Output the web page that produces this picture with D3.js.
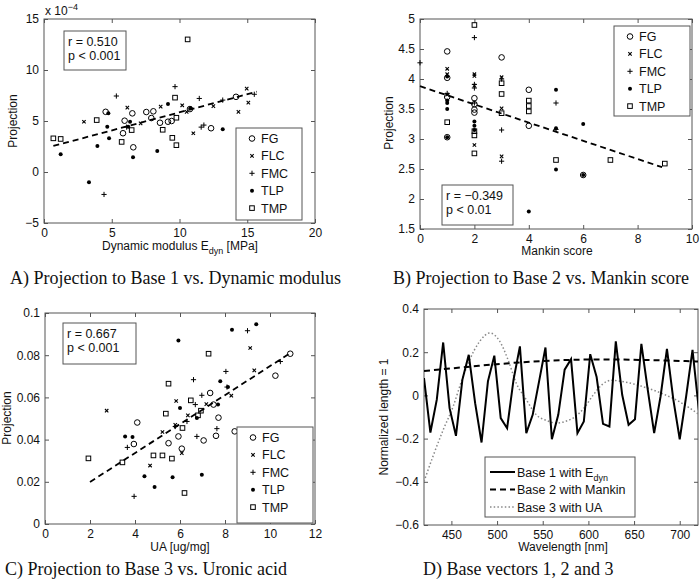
<!DOCTYPE html>
<meta charset="utf-8">
<script src="https://d3js.org/d3.v7.min.js"></script>
<style>
  body { margin: 0; background: #fff; }
  svg text { font-family: "Liberation Sans", Arial, sans-serif; fill: #111; }
  .cap { font-family: "Liberation Serif", "Times New Roman", serif; }
</style>
<div id="chart"></div>
<script>
// ---- data ----
var groups = ["FG", "FLC", "FMC", "TLP", "TMP"];

// A) projection to base 1 (x 1e-4) vs dynamic modulus [MPa]
var aFG  = [[4.55,5.9],[5.95,5.03],[5.83,3.8],[6.52,5.75],[6.59,2.42],[7.55,5.88],[7.92,5.29],[8.07,5.95],[8.56,4.83],[9.15,4.93],[9.42,5.0],[10.77,6.17],[12.33,4.29],[14.17,7.37]];
var aFLC = [[2.95,4.93],[6.15,6.31],[7.13,4.77],[8.61,6.41],[10.2,6.54],[10.53,5.9],[11.02,3.8],[12.5,6.46],[14.35,5.89],[14.96,8.18],[15.08,6.8]];
var aFMC = [[4.43,-2.2],[5.34,7.45],[9.67,8.37],[11.46,7.21],[11.6,4.4],[11.8,4.6],[13.19,7.05],[15.52,7.62],[6.1,4.4]];
var aTLP = [[1.23,1.73],[3.32,-1.01],[3.94,2.55],[4.67,4.44],[4.8,3.3],[4.75,5.75],[6.35,4.93],[6.22,4.44],[6.57,1.44],[8.36,2.06],[9.15,6.67],[10.8,6.25],[13.19,4.19]];
var aTMP = [[0.69,3.3],[1.23,3.24],[3.89,5.09],[5.73,2.95],[6.47,4.11],[8.76,4.14],[9.47,3.35],[9.77,2.63],[9.77,5.32],[9.67,7.29],[10.6,13.0]];
var aTrend = [[0.69,2.55],[15.7,7.87]];

// B) projection to base 2 vs Mankin score
var bFG  = [[1,4.46],[1,4.02],[1,3.7],[1,3.03],[2,3.68],[2,3.58],[2,3.49],[2,3.44],[3,4.36],[4,3.82],[4,3.22],[6,2.4]];
var bFLC = [[1,4.17],[1,4.08],[1,3.74],[2,4.08],[2,4.05],[2,3.89],[2,2.9],[3,4.03],[3,3.51],[3,2.71]];
var bFMC = [[0,4.27],[1,3.76],[2,4.69],[2,3.91],[2,3.85],[2,3.6],[3,4.0],[3,3.15],[3,2.63],[5,3.6],[5,3.16]];
var bTLP = [[1,4.04],[1,3.64],[1,3.6],[1,3.5],[1,3.03],[2,3.29],[2,3.22],[2,3.15],[4,1.79],[5,3.82],[5,3.18],[5,2.49],[6,3.25],[6,2.4]];
var bTMP = [[1,3.28],[2,4.9],[2,3.13],[2,3.06],[2,2.76],[3,3.93],[3,3.75],[3,3.43],[4,3.64],[4,3.55],[4,3.46],[5,2.65],[7,2.65],[9,2.59]];
var bTrend = [[0,3.88],[8.9,2.53]];

// C) projection to base 3 vs uronic acid [ug/mg]
var cFG  = [[4.1,0.0481],[3.95,0.0379],[5.49,0.0383],[5.93,0.0415],[6.08,0.0357],[7.05,0.0396],[7.34,0.0621],[7.49,0.0566],[7.71,0.0504],[7.6,0.0418],[8.43,0.0439],[10.24,0.0703],[10.9,0.0807]];
var cFLC = [[2.74,0.0537],[4.67,0.0277],[5.22,0.0436],[5.83,0.0583],[5.79,0.047],[6.35,0.0515],[6.08,0.0336],[7.17,0.0568],[8.28,0.0608],[9.12,0.0834],[9.3,0.0728]];
var cFMC = [[3.66,0.0363],[3.96,0.0131],[5.79,0.0462],[6.31,0.0486],[6.6,0.0684],[6.97,0.061],[6.68,0.0566],[6.75,0.0415],[7.64,0.0452],[8.04,0.0723],[8.09,0.0649],[9.0,0.0916],[10.46,0.077]];
var cTLP = [[3.56,0.0415],[3.89,0.0412],[4.42,0.0226],[4.87,0.0175],[5.67,0.0221],[5.93,0.087],[6.0,0.055],[6.75,0.0502],[6.97,0.0233],[7.69,0.0566],[7.79,0.0676],[8.13,0.0649],[8.31,0.0921],[9.39,0.0947]];
var cTMP = [[1.93,0.0311],[3.44,0.0292],[4.82,0.0325],[5.22,0.0325],[5.64,0.031],[5.37,0.0523],[5.49,0.0665],[6.11,0.0455],[6.2,0.0147],[6.48,0.0586],[6.8,0.0515],[6.93,0.0537],[7.27,0.0807]];
var cTrend = [[2.0,0.0199],[10.9,0.081]];

// D) base vectors
var wl1 = [420,427,434,441,448,455,462,469,476,483,490,497,504,511,518,525,532,539,546,553,560,567,574,581,588,595,602,609,616,623,630,637,644,651,658,665,672,679,686,693,700,707,714,721];
var base1 = [0.08,-0.172,-0.02,0.245,-0.059,-0.187,0.072,0.188,-0.036,-0.218,0.065,0.184,-0.105,-0.152,0.072,0.227,-0.175,-0.09,0.065,0.222,-0.203,-0.09,0.119,0.168,-0.175,-0.121,0.191,0.085,-0.132,-0.144,0.25,0.003,-0.136,-0.11,0.239,0.026,-0.175,-0.005,0.215,-0.02,-0.203,-0.005,0.211,-0.07];
var wl2 = [420,450,480,510,540,570,600,630,660,690,720];
var base2 = [0.113,0.125,0.137,0.148,0.157,0.163,0.166,0.166,0.164,0.161,0.157];
var wl3 = [420,430,441,452,461,470,481,492,503,512,521,532,543,554,565,575,585,595,605,615,625,640,660,680,700,720];
var base3 = [-0.399,-0.28,-0.16,-0.05,0.065,0.165,0.25,0.289,0.25,0.165,0.057,-0.02,-0.09,-0.116,-0.128,-0.12,-0.1,-0.06,0.0,0.05,0.07,0.062,0.04,0.01,-0.03,-0.085];

var svg = d3.select("#chart").append("svg").attr("width", 700).attr("height", 583);
var boxColor = "#555";

function marker(g, type, x, y) {
  if (type == "FG") {
    g.append("circle").attr("cx", x).attr("cy", y).attr("r", 2.8)
      .attr("fill", "none").attr("stroke", "#000").attr("stroke-width", 1);
  } else if (type == "FLC") {
    g.append("path").attr("d", "M" + (x-1.7) + "," + (y-1.7) + "L" + (x+1.7) + "," + (y+1.7) +
      "M" + (x-1.7) + "," + (y+1.7) + "L" + (x+1.7) + "," + (y-1.7))
      .attr("stroke", "#000").attr("stroke-width", 1.1);
  } else if (type == "FMC") {
    g.append("path").attr("d", "M" + (x-2.6) + "," + y + "H" + (x+2.6) + "M" + x + "," + (y-2.6) + "V" + (y+2.6))
      .attr("stroke", "#000").attr("stroke-width", 1);
  } else if (type == "TLP") {
    g.append("circle").attr("cx", x).attr("cy", y).attr("r", 2).attr("fill", "#000");
  } else {
    g.append("rect").attr("x", x-2.3).attr("y", y-2.3).attr("width", 4.6).attr("height", 4.6)
      .attr("fill", "none").attr("stroke", "#000").attr("stroke-width", 1);
  }
}

function frame(p, x, y, xt, yt, fmtY) {
  var g = svg.append("g");
  g.append("rect").attr("x", p.l).attr("y", p.t).attr("width", p.r - p.l).attr("height", p.b - p.t)
    .attr("fill", "#fff").attr("stroke", boxColor).attr("stroke-width", 1);
  var axes = [
    [d3.axisBottom(x).tickValues(xt), "translate(0," + p.b + ")", true],
    [d3.axisTop(x).tickValues(xt).tickFormat(""), "translate(0," + p.t + ")", false],
    [d3.axisLeft(y).tickValues(yt).tickFormat(fmtY || d3.format("")), "translate(" + p.l + ",0)", true],
    [d3.axisRight(y).tickValues(yt).tickFormat(""), "translate(" + p.r + ",0)", false]
  ];
  axes.forEach(function(a) {
    var ax = g.append("g").attr("transform", a[1])
      .call(a[0].tickSizeInner(-4).tickSizeOuter(0).tickPadding(5));
    ax.select(".domain").remove();
    ax.selectAll("line").attr("stroke", boxColor);
    ax.selectAll("text").style("font-size", "12px").attr("fill", "#111");
  });
  return g;
}

function scatter(p, xd, yd, xt, yt, sets, trend, stat, leg, fmtY) {
  var x = d3.scaleLinear().domain(xd).range([p.l, p.r]);
  var y = d3.scaleLinear().domain(yd).range([p.b, p.t]);
  var g = frame(p, x, y, xt, yt, fmtY);
  sets.forEach(function(s, i) {
    s.forEach(function(d) { marker(g, groups[i], x(d[0]), y(d[1])); });
  });
  g.append("path").datum(trend)
    .attr("d", d3.line().x(function(d) { return x(d[0]); }).y(function(d) { return y(d[1]); }))
    .attr("fill", "none").attr("stroke", "#000").attr("stroke-width", 1.8).attr("stroke-dasharray", "6,4");
  // stat box
  g.append("rect").attr("x", stat.x).attr("y", stat.y).attr("width", stat.w).attr("height", stat.h)
    .attr("fill", "#fff").attr("stroke", boxColor);
  stat.lines.forEach(function(t, i) {
    g.append("text").attr("x", stat.x + 4).attr("y", stat.y + 15 + i * 14).style("font-size", "12.5px").text(t);
  });
  // legend
  g.append("rect").attr("x", leg.x).attr("y", leg.y).attr("width", leg.w).attr("height", leg.h)
    .attr("fill", "#fff").attr("stroke", boxColor);
  groups.forEach(function(name, i) {
    var yy = leg.y + 10.5 + i * 17.4;
    marker(g, name, leg.x + 16, yy);
    g.append("text").attr("x", leg.x + 25).attr("y", yy + 4.5).style("font-size", "12.5px").text(name);
  });
  return {x: x, y: y};
}

function ylabel(x, y, txt) {
  return svg.append("text").attr("transform", "translate(" + x + "," + y + ") rotate(-90)")
    .attr("text-anchor", "middle").style("font-size", "12px").text(txt);
}

// ---- panel A ----
var pA = {l: 44, r: 315, t: 19, b: 223};
scatter(pA, [0, 20], [-5, 15], [0, 5, 10, 15, 20], [-5, 0, 5, 10, 15],
  [aFG, aFLC, aFMC, aTLP, aTMP], aTrend,
  {x: 64, y: 31, w: 62, h: 39, lines: ["r = 0.510", "p < 0.001"]},
  {x: 236, y: 128, w: 66, h: 92});
var ex = svg.append("text").attr("x", 45).attr("y", 15).style("font-size", "12px").text("x 10");
ex.append("tspan").attr("dy", -5).style("font-size", "9px").text("\u22124");
var xa = svg.append("text").attr("x", 180).attr("y", 250).attr("text-anchor", "middle").style("font-size", "12px");
xa.append("tspan").text("Dynamic modulus E");
xa.append("tspan").attr("dy", 4).style("font-size", "9px").text("dyn");
xa.append("tspan").attr("dy", -4).text(" [MPa]");
ylabel(17, 121, "Projection");
svg.append("text").attr("class", "cap").attr("x", 10).attr("y", 284).style("font-size", "18px")
  .text("A) Projection to Base 1 vs. Dynamic modulus");

// ---- panel B ----
var pB = {l: 420, r: 692, t: 19, b: 229};
scatter(pB, [0, 10], [1.5, 5], [0, 2, 4, 6, 8, 10], [1.5, 2, 2.5, 3, 3.5, 4, 4.5, 5],
  [bFG, bFLC, bFMC, bTLP, bTMP], bTrend,
  {x: 442, y: 185, w: 71, h: 40, lines: ["r = \u22120.349", "p < 0.01"]},
  {x: 614, y: 26, w: 76, h: 90});
svg.append("text").attr("x", 557).attr("y", 255).attr("text-anchor", "middle").style("font-size", "12px").text("Mankin score");
ylabel(393, 123, "Projection");
svg.append("text").attr("class", "cap").attr("x", 393).attr("y", 284).style("font-size", "18px")
  .text("B) Projection to Base 2 vs. Mankin score");

// ---- panel C ----
var pC = {l: 45, r: 315, t: 313, b: 524};
scatter(pC, [0, 12], [0, 0.1], [0, 2, 4, 6, 8, 10, 12], [0, 0.02, 0.04, 0.06, 0.08, 0.1],
  [cFG, cFLC, cFMC, cTLP, cTMP], cTrend,
  {x: 63, y: 323, w: 73, h: 41, lines: ["r = 0.667", "p < 0.001"]},
  {x: 237, y: 427, w: 76, h: 96});
svg.append("text").attr("x", 180).attr("y", 551).attr("text-anchor", "middle").style("font-size", "12px").text("UA [ug/mg]");
ylabel(11, 418, "Projection");
svg.append("text").attr("class", "cap").attr("x", 5).attr("y", 575).style("font-size", "18px")
  .text("C) Projection to Base 3 vs. Uronic acid");

// ---- panel D ----
var pD = {l: 424, r: 698, t: 309, b: 525};
var xD = d3.scaleLinear().domain([420, 720]).range([pD.l, pD.r]);
var yD = d3.scaleLinear().domain([-0.6, 0.4]).range([pD.b, pD.t]);
var gD = frame(pD, xD, yD, [450, 500, 550, 600, 650, 700], [-0.6, -0.4, -0.2, 0, 0.2, 0.4]);
svg.append("clipPath").attr("id", "clipD").append("rect")
  .attr("x", pD.l).attr("y", pD.t).attr("width", pD.r - pD.l).attr("height", pD.b - pD.t);
var lineD = d3.line().x(function(d) { return xD(d[0]); }).y(function(d) { return yD(d[1]); });
var lineSmooth = d3.line().curve(d3.curveMonotoneX).x(function(d) { return xD(d[0]); }).y(function(d) { return yD(d[1]); });
var series = [
  {d: d3.zip(wl3, base3), gen: lineSmooth, stroke: "#888", w: 1.5, dash: "1.5,2.2"},
  {d: d3.zip(wl2, base2), gen: lineSmooth, stroke: "#000", w: 2, dash: "6,4"},
  {d: d3.zip(wl1, base1), gen: lineD, stroke: "#000", w: 2, dash: null}
];
var plotD = gD.append("g").attr("clip-path", "url(#clipD)");
series.forEach(function(s) {
  plotD.append("path").attr("d", s.gen(s.d)).attr("fill", "none")
    .attr("stroke", s.stroke).attr("stroke-width", s.w).attr("stroke-dasharray", s.dash)
    .attr("stroke-linejoin", "miter");
});
// legend D
gD.append("rect").attr("x", 485).attr("y", 457).attr("width", 150).attr("height", 60)
  .attr("fill", "#fff").attr("stroke", boxColor);
var legD = [
  {t: "Base 1 with E", sub: "dyn", s: series[2]},
  {t: "Base 2 with Mankin", s: series[1]},
  {t: "Base 3 with UA", s: series[0]}
];
legD.forEach(function(e, i) {
  var yy = 472 + i * 17.5;
  gD.append("line").attr("x1", 490).attr("x2", 515).attr("y1", yy).attr("y2", yy)
    .attr("stroke", e.s.stroke).attr("stroke-width", e.s.w).attr("stroke-dasharray", e.s.dash);
  var t = gD.append("text").attr("x", 517).attr("y", yy + 4.5).style("font-size", "12.5px").text(e.t);
  if (e.sub) t.append("tspan").attr("dy", 4).style("font-size", "9px").text(e.sub);
});
svg.append("text").attr("x", 563).attr("y", 551).attr("text-anchor", "middle").style("font-size", "12px").text("Wavelength [nm]");
ylabel(388, 417, "Normalized length = 1");
svg.append("text").attr("class", "cap").attr("x", 423).attr("y", 575).style("font-size", "18px")
  .text("D) Base vectors 1, 2 and 3");
</script>
